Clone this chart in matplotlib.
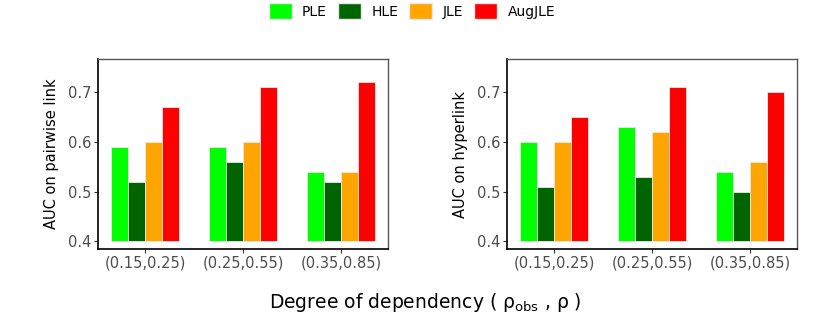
import matplotlib
matplotlib.use("Agg")
import matplotlib.pyplot as plt
import numpy as np
from matplotlib.patches import Patch

categories = ["(0.15,0.25)", "(0.25,0.55)", "(0.35,0.85)"]
methods = ["PLE", "HLE", "JLE", "AugJLE"]
colors = ["#00FF00", "#006400", "#FFA500", "#FF0000"]

pairwise_auc = {
    "PLE": [0.59, 0.59, 0.54],
    "HLE": [0.52, 0.56, 0.52],
    "JLE": [0.60, 0.60, 0.54],
    "AugJLE": [0.67, 0.71, 0.72],
}
hyper_auc = {
    "PLE": [0.60, 0.63, 0.54],
    "HLE": [0.51, 0.53, 0.50],
    "JLE": [0.60, 0.62, 0.56],
    "AugJLE": [0.65, 0.71, 0.70],
}
yticks = [0.4, 0.5, 0.6, 0.7]
base = 0.4

fig = plt.figure(figsize=(8.17, 3.19), dpi=100)
W, H = 817, 319
ax1 = fig.add_axes([98 / W, 1 - 249 / H, 290 / W, 190 / H])
ax2 = fig.add_axes([507 / W, 1 - 249 / H, 290 / W, 190 / H])


def draw_panel(ax, data, ylabel):
    x = np.arange(1, len(categories) + 1)
    width = 0.173
    for i, m in enumerate(methods):
        vals = np.array(data[m])
        ax.bar(x + (i - 1.5) * width, vals - base, width, bottom=base,
               color=colors[i], edgecolor="#E8E8E8", linewidth=0.6)
    ax.set_xlim(0.52, 3.475)
    ax.set_ylim(0.3845, 0.767)
    ax.set_xticks(x)
    ax.set_xticklabels(categories)
    ax.set_yticks(yticks)
    ax.set_yticklabels([f"{v:.1f}" for v in yticks])
    ax.tick_params(axis="both", labelsize=10.5, colors="#333333", labelcolor="#4D4D4D",
                   length=3, width=0.8, pad=2)
    for side in ["top", "right"]:
        ax.spines[side].set_color("#555555")
        ax.spines[side].set_linewidth(1.0)
    for side in ["left", "bottom"]:
        ax.spines[side].set_color("black")
        ax.spines[side].set_linewidth(1.2)
    ax.set_ylabel(ylabel, fontsize=10.5, labelpad=6)


draw_panel(ax1, pairwise_auc, "AUC on pairwise link")
draw_panel(ax2, hyper_auc, "AUC on hyperlink")

fig.text(425 / W, 1 - 302 / H, r"Degree of dependency ( ρ$_{\mathregular{obs}}$ , ρ )",
         ha="center", va="center", fontsize=13.5)

handles = [Patch(facecolor=c, edgecolor="#E8E8E8", label=m) for m, c in zip(methods, colors)]
fig.legend(handles=handles, loc="center", bbox_to_anchor=(412 / W, 1 - 11 / H), ncol=4,
           frameon=False, fontsize=10, handlelength=1.65, handleheight=1.4,
           columnspacing=0.8, handletextpad=0.75)

fig.savefig("out.png", dpi=100)
